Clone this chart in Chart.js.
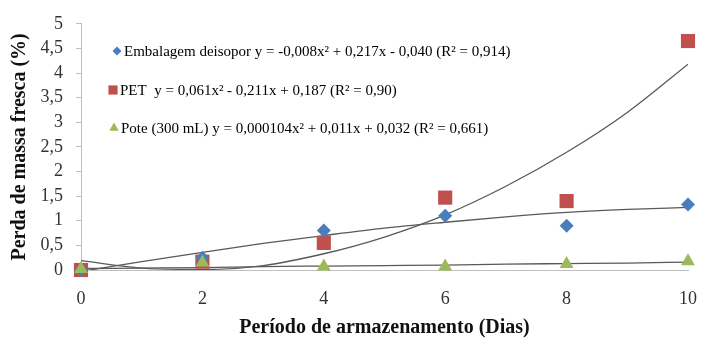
<!DOCTYPE html>
<html>
<head>
<meta charset="utf-8">
<script src="https://cdn.jsdelivr.net/npm/chart.js@4"></script>
<style>
  html, body { margin: 0; padding: 0; background: #fff; }
  #wrap { width: 701px; height: 340px; }
</style>
</head>
<body>
<div id="wrap"><canvas id="lossChart" width="701" height="340"></canvas></div>
<script>
// days of storage
const days = [0, 2, 4, 6, 8, 10];

// observed mass loss (%)
const isopor = [0.0, 0.25, 0.8, 1.1, 0.9, 1.33];
const pet = [0.0, 0.17, 0.55, 1.47, 1.4, 4.65];
const pote = [0.02, 0.15, 0.07, 0.07, 0.12, 0.18];

// fitted curves at each day
const trendDays = [0, 1, 2, 3, 4, 5, 6, 7, 8, 9, 10];
const isoporTrend = [-0.03, 0.17, 0.36, 0.54, 0.70, 0.85, 0.97, 1.08, 1.17, 1.23, 1.27];
const petTrend = [0.19, 0.04, 0.01, 0.09, 0.33, 0.67, 1.12, 1.70, 2.39, 3.20, 4.18];
const poteTrend = [0.03, 0.04, 0.05, 0.07, 0.08, 0.09, 0.10, 0.12, 0.13, 0.14, 0.16];

const legendNames = [
    'Embalagem deisopor y = -0,008x² + 0,217x - 0,040 (R² = 0,914)',
    'PET  y = 0,061x² - 0,211x + 0,187 (R² = 0,90)',
    'Pote (300 mL) y = 0,000104x² + 0,011x + 0,032 (R² = 0,661)'
];

const yTickLabels = ['0', '0,5', '1', '1,5', '2', '2,5', '3', '3,5', '4', '4,5', '5'];

const blue = '#4a7ebb';
const red = '#c0504d';
const green = '#9bbb59';
const trendColor = '#595959';
const serif = '"Liberation Serif", "Times New Roman", serif';

function pts(xs, ys) {
    return xs.map((x, i) => ({ x: x, y: ys[i] }));
}

function trend(ys) {
    return {
        type: 'line',
        data: pts(trendDays, ys),
        borderColor: trendColor,
        borderWidth: 1.3,
        pointRadius: 0,
        fill: false,
        cubicInterpolationMode: 'monotone',
        order: 2
    };
}

// legend drawn inside the plot, like the original
const insideLegend = {
    id: 'insideLegend',
    afterDraw(chart) {
        const ctx = chart.ctx;
        const rows = [
            { y: 51, style: 'rectRot', color: blue, r: 4.5, mx: 117 },
            { y: 90, style: 'rect', color: red, r: 6.5, mx: 113 },
            { y: 128, style: 'triangle', color: green, r: 5.5, mx: 114 }
        ];
        rows.forEach((row, i) => {
            ctx.save();
            ctx.fillStyle = row.color;
            ctx.strokeStyle = row.color;
            Chart.helpers.drawPoint(ctx, { pointStyle: row.style, radius: row.r, borderWidth: 0 }, row.mx, row.y);
            ctx.font = '15px ' + serif;
            ctx.fillStyle = '#000';
            ctx.textBaseline = 'middle';
            ctx.fillText(legendNames[i], row.mx + 7, row.y + 1);
            ctx.restore();
        });
    }
};

const ctx = document.getElementById('lossChart');

new Chart(ctx, {
    type: 'scatter',

    plugins: [insideLegend],

    data: {
        datasets: [
            {
                label: 'Embalagem deisopor',
                data: pts(days, isopor),
                pointStyle: 'rectRot',
                pointRadius: 7,
                backgroundColor: blue,
                borderColor: blue,
                borderWidth: 0,
                clip: false,
                order: 1
            },
            {
                label: 'PET',
                data: pts(days, pet),
                pointStyle: 'rect',
                pointRadius: 10,
                backgroundColor: red,
                borderColor: red,
                borderWidth: 0,
                clip: false,
                order: 1
            },
            {
                label: 'Pote (300 mL)',
                data: pts(days, pote),
                pointStyle: 'triangle',
                pointRadius: 8,
                backgroundColor: green,
                borderColor: green,
                borderWidth: 0,
                clip: false,
                order: 0
            },
            trend(isoporTrend),
            trend(petTrend),
            trend(poteTrend)
        ]
    },

    options: {
        responsive: false,
        animation: false,
        layout: {
            autoPadding: false,
            padding: { left: 4, right: 13, top: 23, bottom: 0 }
        },

        plugins: {
            legend: { display: false },
            tooltip: { enabled: false }
        },

        scales: {
            x: {
                type: 'linear',
                min: 0,
                max: 10,
                ticks: {
                    stepSize: 2,
                    color: '#333',
                    padding: 0,
                    font: { family: serif, size: 18 }
                },
                grid: {
                    display: true,
                    drawOnChartArea: false,
                    drawTicks: true,
                    tickLength: 18,
                    tickColor: 'rgba(0,0,0,0)'
                },
                border: { color: '#bfbfbf', width: 1 },
                title: {
                    display: true,
                    text: 'Período de armazenamento (Dias)',
                    color: '#111',
                    padding: { top: 8, bottom: 0 },
                    font: { family: serif, size: 20, weight: 'bold' }
                },
                afterFit: function(scale) {
                    scale.height = 70;
                }
            },
            y: {
                min: 0,
                max: 5,
                ticks: {
                    stepSize: 0.5,
                    color: '#333',
                    padding: 13,
                    font: { family: serif, size: 18 },
                    callback: function(value) {
                        return yTickLabels[Math.round(value * 2)];
                    }
                },
                grid: {
                    display: true,
                    drawOnChartArea: false,
                    drawTicks: true,
                    tickLength: 5,
                    color: '#bfbfbf'
                },
                border: { color: '#bfbfbf', width: 1 },
                title: {
                    display: true,
                    text: 'Perda de massa fresca (%)',
                    color: '#111',
                    padding: { bottom: 0 },
                    font: { family: serif, size: 20, weight: 'bold' }
                },
                afterFit: function(scale) {
                    scale.width = 77;
                }
            }
        }
    }
});
</script>
</body>
</html>
